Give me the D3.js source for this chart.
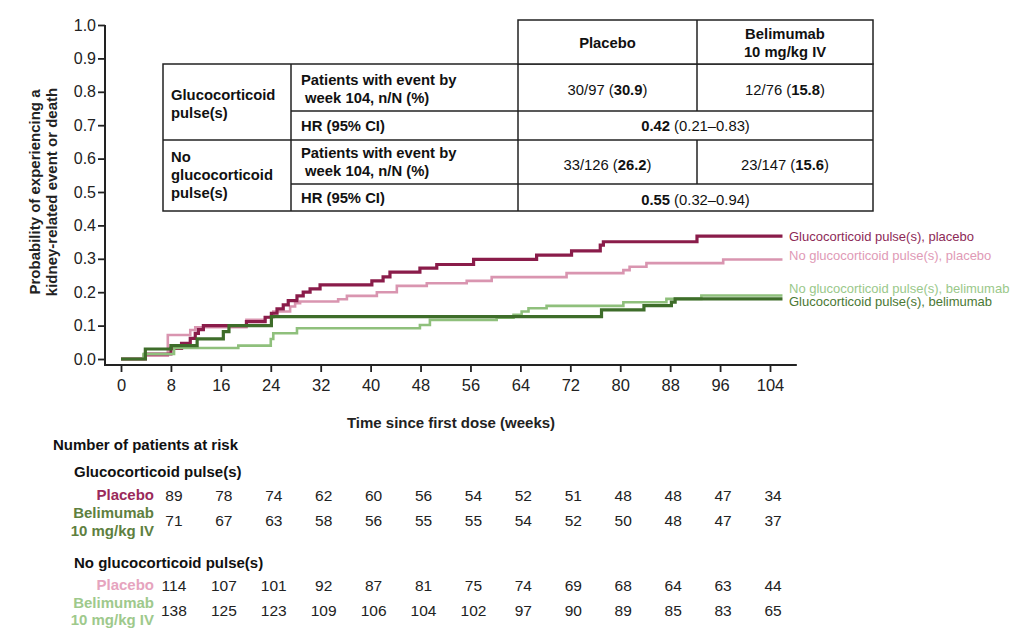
<!DOCTYPE html>
<html><head><meta charset="utf-8">
<script src="https://cdn.jsdelivr.net/npm/d3@7"></script>
<style>
body{margin:0;background:#fff;}
svg{display:block;font-family:"Liberation Sans",Arial,Helvetica,sans-serif;}
</style></head><body>
<svg id="chart" width="1024" height="635"></svg>
<script>
// ---------- DATA ----------
const xTicks = [0,8,16,24,32,40,48,56,64,72,80,88,96,104];
const yTicks = [0,0.1,0.2,0.3,0.4,0.5,0.6,0.7,0.8,0.9,1.0];

const seriesLabels = ["No glucocorticoid pulse(s), placebo","Glucocorticoid pulse(s), placebo","No glucocorticoid pulse(s), belimumab","Glucocorticoid pulse(s), belimumab"];

const gcPlaceboWeeks = [0,3.9,8,9.7,11.1,11.9,12.4,13.2,20.1,23.1,24.1,25,26,26.8,28.2,29.2,30.3,31.9,40.2,42,43.1,47.9,50.6,56.5,66.6,72.2,76.8,77.3,92.3,106];
const gcPlaceboProb  = [0,0.015,0.032,0.047,0.062,0.077,0.088,0.100,0.112,0.125,0.137,0.150,0.162,0.175,0.189,0.200,0.210,0.222,0.234,0.246,0.260,0.272,0.283,0.298,0.311,0.324,0.341,0.351,0.368,0.368];

const noGcPlaceboWeeks = [0,3.6,7.5,11.1,11.9,20.1,23.1,24.4,27.1,27.9,28.7,34.8,36.2,41,44.2,49,55.4,59.4,71.4,80.5,81.5,84.2,96.5,106];
const noGcPlaceboProb  = [0,0.010,0.072,0.087,0.095,0.117,0.125,0.142,0.157,0.167,0.172,0.179,0.189,0.200,0.219,0.227,0.234,0.245,0.257,0.266,0.276,0.287,0.298,0.298];

const noGcBelWeeks = [0,3.6,8.5,18.8,24.0,24.4,28.2,47.9,49.5,60.2,62.9,64.2,65.3,68.2,80.5,87.4,93,106];
const noGcBelProb  = [0,0.015,0.033,0.040,0.060,0.077,0.092,0.102,0.117,0.124,0.132,0.142,0.152,0.159,0.170,0.180,0.190,0.190];

const gcBelWeeks = [0,3.9,8,12.2,16.4,17.3,24.1,77,83.8,88.2,88.8,106];
const gcBelProb  = [0,0.030,0.040,0.060,0.082,0.100,0.127,0.147,0.160,0.170,0.180,0.180];

const tableColHeaders = ["Placebo","Belimumab|10 mg/kg IV"];
const tableGroups = ["Glucocorticoid|pulse(s)","No|glucocorticoid|pulse(s)"];
const tableRowLabels = ["Patients with event by| week 104, n/N (%)","HR (95% CI)"];
const eventsPlacebo = [["30/97 ","30.9"],["33/126 ","26.2"]];
const eventsBel = [["12/76 ","15.8"],["23/147 ","15.6"]];
const hrValues = [["0.42"," (0.21\u20130.83)"],["0.55"," (0.32\u20130.94)"]];

const riskWeeks = [8,16,24,32,40,48,56,64,72,80,88,96,104];
const riskGcPlacebo = [89,78,74,62,60,56,54,52,51,48,48,47,34];
const riskGcBel = [71,67,63,58,56,55,55,54,52,50,48,47,37];
const riskNoGcPlacebo = [114,107,101,92,87,81,75,74,69,68,64,63,44];
const riskNoGcBel = [138,125,123,109,106,104,102,97,90,89,85,83,65];

// ---------- STYLE ----------
const colDarkRed = "#8a1c4a", colPink = "#d995b0", colLightGreen = "#8fc07c", colDarkGreen = "#3e6d2a";
const svg = d3.select("#chart");
const x = d3.scaleLinear().domain([0,104]).range([121,770]);
const y = d3.scaleLinear().domain([0,1]).range([359,25]);
const axisColor = "#222";

// axes
const gx = svg.append("g").attr("transform","translate(0,365)");
gx.call(d3.axisBottom(x).tickValues(xTicks).tickSize(7).tickSizeOuter(0).tickFormat(d3.format("d")));
gx.select(".domain").remove();
gx.selectAll(".tick line").attr("stroke",axisColor).attr("stroke-width",1.8);
gx.selectAll(".tick text").attr("font-size",16.5).attr("dy","0.95em").attr("fill","#222")
  .attr("font-family","'Liberation Sans Narrow','Arial Narrow',sans-serif");
svg.append("line").attr("x1",x(-2.6)).attr("x2",x(108.3)).attr("y1",365).attr("y2",365)
  .attr("stroke",axisColor).attr("stroke-width",2);

const gy = svg.append("g").attr("transform","translate(105,0)");
gy.call(d3.axisLeft(y).tickValues(yTicks).tickSize(7).tickSizeOuter(0).tickFormat(d3.format(".1f")));
gy.select(".domain").remove();
gy.selectAll(".tick line").attr("stroke",axisColor).attr("stroke-width",1.8);
gy.selectAll(".tick text").attr("font-size",16).attr("fill","#222").attr("x",-9);
svg.append("line").attr("x1",105).attr("x2",105).attr("y1",y(1)).attr("y2",366)
  .attr("stroke",axisColor).attr("stroke-width",2);

// axis titles
const ylab = svg.append("text").attr("transform","translate(40,192) rotate(-90)")
  .attr("text-anchor","middle").attr("font-size",15).attr("font-weight","bold").attr("fill","#222");
ylab.append("tspan").attr("x",0).attr("dy",0).text("Probability of experiencing a");
ylab.append("tspan").attr("x",0).attr("dy",17).text("kidney-related event or death");
svg.append("text").attr("x",451).attr("y",428).attr("text-anchor","middle")
  .attr("font-size",15).attr("font-weight","bold").attr("fill","#222").text("Time since first dose (weeks)");

// curves
const line = d3.line().x(d=>x(d[0])).y(d=>y(d[1])).curve(d3.curveStepAfter);
const curves = [
  {w:noGcPlaceboWeeks,p:noGcPlaceboProb,c:colPink,sw:2.6},
  {w:gcPlaceboWeeks,p:gcPlaceboProb,c:colDarkRed,sw:3.2},
  {w:noGcBelWeeks,p:noGcBelProb,c:colLightGreen,sw:2.6},
  {w:gcBelWeeks,p:gcBelProb,c:colDarkGreen,sw:3.2}
];
curves.forEach(s=>{
  svg.append("path").datum(d3.zip(s.w,s.p)).attr("d",line)
    .attr("fill","none").attr("stroke",s.c).attr("stroke-width",s.sw);
});

// curve labels
const labelInfo = [
  {t:seriesLabels[1],c:"#8d2a57",yy:241},
  {t:seriesLabels[0],c:"#e09ab6",yy:260},
  {t:seriesLabels[2],c:"#9ac88a",yy:293},
  {t:seriesLabels[3],c:"#4a7833",yy:306}
];
labelInfo.forEach(l=>{
  svg.append("text").attr("x",789).attr("y",l.yy).attr("font-size",13).attr("fill",l.c).text(l.t);
});

// ---------- TABLE ----------
const tCols = [163,291,518,697,873];
const tRows = [20,64,111,140,184,211];
const tg = svg.append("g");
const bStroke = "#222", bw = 1.5;
tg.append("rect").attr("x",tCols[0]).attr("y",tRows[1]).attr("width",tCols[4]-tCols[0]).attr("height",tRows[5]-tRows[1])
  .attr("fill","#fff").attr("stroke",bStroke).attr("stroke-width",bw);
tg.append("rect").attr("x",tCols[2]).attr("y",tRows[0]).attr("width",tCols[4]-tCols[2]).attr("height",tRows[1]-tRows[0])
  .attr("fill","#fff").attr("stroke",bStroke).attr("stroke-width",bw);
function hl(x1,x2,yy){tg.append("line").attr("x1",x1).attr("x2",x2).attr("y1",yy).attr("y2",yy).attr("stroke",bStroke).attr("stroke-width",bw);}
function vl(xx,y1,y2){tg.append("line").attr("x1",xx).attr("x2",xx).attr("y1",y1).attr("y2",y2).attr("stroke",bStroke).attr("stroke-width",bw);}
hl(tCols[1],tCols[4],tRows[2]); hl(tCols[0],tCols[4],tRows[3]); hl(tCols[1],tCols[4],tRows[4]);
vl(tCols[1],tRows[1],tRows[5]); vl(tCols[2],tRows[1],tRows[5]);
vl(tCols[3],tRows[0],tRows[2]); vl(tCols[3],tRows[3],tRows[4]);

const fsT = 14.8;
function multi(lines,xx,yy,anchor,weight,lh){
  const t = tg.append("text").attr("x",xx).attr("y",yy).attr("font-size",fsT).attr("font-weight",weight)
    .attr("text-anchor",anchor).attr("fill","#111");
  lines.forEach((s,i)=>t.append("tspan").attr("x",xx).attr("dy",i?lh:0).text(s));
  return t;
}
multi(tableColHeaders[0].split("|"),(tCols[2]+tCols[3])/2,48,"middle","bold",17);
multi(tableColHeaders[1].split("|"),(tCols[3]+tCols[4])/2,39,"middle","bold",17.5);
multi(tableGroups[0].split("|"),171,100,"start","bold",18);
multi(tableGroups[1].split("|"),171,161.5,"start","bold",18);
[[85,131],[158,203]].forEach((ys,gi)=>{
  multi(tableRowLabels[0].split("|"),301,ys[0],"start","bold",18);
  multi([tableRowLabels[1]],301,ys[1],"start","bold",18);
});
function mixed(parts,boldIdx,xx,yy){
  const t = tg.append("text").attr("x",xx).attr("y",yy).attr("font-size",fsT).attr("text-anchor","middle").attr("fill","#111");
  parts.forEach((p,i)=>t.append("tspan").attr("font-weight",i===boldIdx?"bold":"normal").text(p));
}
[95,170].forEach((yy,gi)=>{
  mixed([eventsPlacebo[gi][0]+"(",eventsPlacebo[gi][1],")"],1,(tCols[2]+tCols[3])/2,yy);
  mixed([eventsBel[gi][0]+"(",eventsBel[gi][1],")"],1,(tCols[3]+tCols[4])/2,yy);
});
[131,205].forEach((yy,gi)=>{
  mixed([hrValues[gi][0],hrValues[gi][1]],0,(tCols[2]+tCols[4])/2,yy);
});

// ---------- RISK TABLE ----------
const rg = svg.append("g").attr("fill","#111");
rg.append("text").attr("x",53).attr("y",450).attr("font-size",15).attr("font-weight","bold").text("Number of patients at risk");
rg.append("text").attr("x",74).attr("y",477).attr("font-size",15).attr("font-weight","bold").text("Glucocorticoid pulse(s)");
rg.append("text").attr("x",74).attr("y",568).attr("font-size",15).attr("font-weight","bold").text("No glucocorticoid pulse(s)");
const riskRows = [
  {vals:riskGcPlacebo,lab:["Placebo"],col:"#9a2a5a",ny:501,ly:[500]},
  {vals:riskGcBel,lab:["Belimumab","10 mg/kg IV"],col:"#5e8040",ny:526,ly:[518,536]},
  {vals:riskNoGcPlacebo,lab:["Placebo"],col:"#e6a4be",ny:591,ly:[590]},
  {vals:riskNoGcBel,lab:["Belimumab","10 mg/kg IV"],col:"#9ec98c",ny:616,ly:[608,625]}
];
riskRows.forEach(r=>{
  r.lab.forEach((s,i)=>rg.append("text").attr("x",154).attr("y",r.ly[i]).attr("text-anchor","end")
    .attr("font-size",15).attr("font-weight","bold").attr("fill",r.col).text(s));
  rg.selectAll(null).data(d3.zip(riskWeeks,r.vals)).enter().append("text")
    .attr("x",d=>x(d[0])+3).attr("y",r.ny).attr("text-anchor","middle").attr("font-size",15.5)
    .attr("fill","#222").text(d=>d[1]);
});
</script>
</body></html>
